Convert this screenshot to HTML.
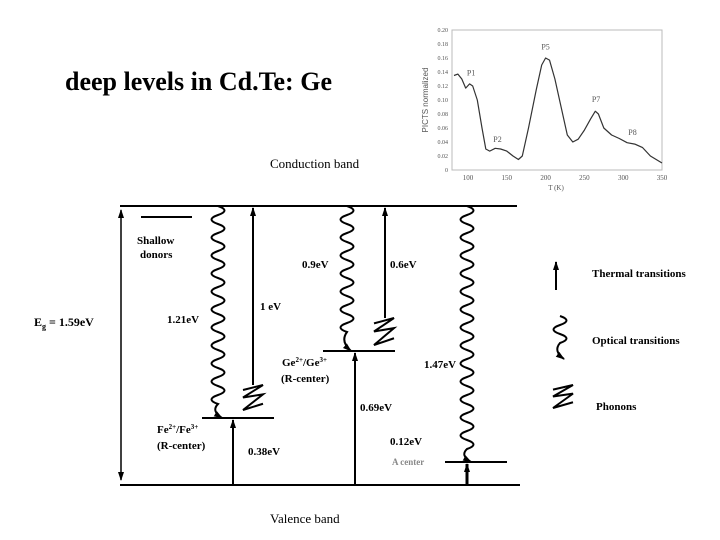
<!DOCTYPE html>
<html><head><meta charset="utf-8"><style>
body{margin:0;background:#fff;}
svg{display:block;font-family:"Liberation Serif",serif;}
.l{font-size:11px;font-weight:bold;}
</style></head><body>
<svg id="s" width="720" height="540" viewBox="0 0 720 540">
<defs>
<marker id="ah" markerWidth="9" markerHeight="8" refX="8" refY="4" orient="auto-start-reverse" markerUnits="userSpaceOnUse" viewBox="0 0 9 8"><path d="M0,1 L9,4 L0,7 Z" fill="#000"/></marker>
</defs>
<text x="65" y="90" font-size="26" font-weight="bold">deep levels in Cd.Te: Ge</text>
<text x="270" y="168" font-size="13">Conduction band</text>
<text x="270" y="523" font-size="13">Valence band</text>
<g id="diag" stroke="#000" fill="none" stroke-width="2"></g>
<g class="l">
<text x="137" y="244">Shallow</text><text x="140" y="258">donors</text>
<text x="302" y="268">0.9eV</text><text x="390" y="268">0.6eV</text>
<text x="167" y="323">1.21eV</text><text x="260" y="310">1 eV</text>
<text x="282" y="366">Ge<tspan font-size="7" dy="-4">2+</tspan><tspan dy="4">/Ge</tspan><tspan font-size="7" dy="-4">3+</tspan></text>
<text x="281" y="382">(R-center)</text>
<text x="424" y="368">1.47eV</text><text x="360" y="411">0.69eV</text>
<text x="157" y="433">Fe<tspan font-size="7" dy="-4">2+</tspan><tspan dy="4">/Fe</tspan><tspan font-size="7" dy="-4">3+</tspan></text>
<text x="157" y="449">(R-center)</text>
<text x="390" y="445">0.12eV</text><text x="248" y="455">0.38eV</text>
<text x="392" y="465" fill="#888" font-size="9">A center</text>
<text x="34" y="326" font-size="12">E<tspan font-size="8" dy="3">g</tspan><tspan dy="-3"> = 1.59eV</tspan></text>
<text x="592" y="277">Thermal transitions</text>
<text x="592" y="344">Optical transitions</text>
<text x="596" y="410">Phonons</text>
</g>
<g id="chart"></g>
</svg>
<script>
const temps=[82,87,92,97,102,106,112,118,123,128,135,142,150,158,165,170,178,188,195,200,205,212,220,228,235,242,250,258,264,268,275,285,295,305,315,325,335,350];
const picts=[0.135,0.137,0.13,0.117,0.123,0.12,0.1,0.06,0.03,0.027,0.031,0.03,0.027,0.02,0.015,0.02,0.06,0.115,0.15,0.16,0.157,0.13,0.09,0.05,0.04,0.044,0.057,0.073,0.084,0.08,0.06,0.05,0.045,0.039,0.037,0.032,0.02,0.01];
const xTicks=[100,150,200,250,300,350];
const yTicks=[0,0.02,0.04,0.06,0.08,0.10,0.12,0.14,0.16,0.18,0.20];
const peaks=[["P1",104,0.135],["P2",138,0.04],["P5",200,0.172],["P7",265,0.097],["P8",312,0.05]];
const NS="http://www.w3.org/2000/svg";
function mk(p,t,a){const e=document.createElementNS(NS,t);for(const k in a)e.setAttribute(k,a[k]);p.appendChild(e);return e;}
const ch=document.getElementById('chart');
const X=t=>468+(t-100)*(194/250), Y=v=>170-v*700;
const fr=mk(ch,'rect',{x:452,y:Y(0.2),width:210,height:140,fill:'none',stroke:'#bbb','stroke-width':1});

xTicks.forEach(t=>{const e=mk(ch,'text',{x:X(t),y:180,'font-size':7,'text-anchor':'middle',fill:'#555'});e.textContent=t;
});
yTicks.forEach(v=>{const e=mk(ch,'text',{x:448,y:Y(v)+2,'font-size':6,'text-anchor':'end',fill:'#555'});e.textContent=v===0?'0':v.toFixed(2);
});
let xl=mk(ch,'text',{x:556,y:190,'font-size':7,'text-anchor':'middle',fill:'#555'});xl.textContent='T (K)';

let yl=mk(ch,'text',{x:428,y:100,'font-size':8,'text-anchor':'middle',fill:'#555',transform:'rotate(-90 428 100)','font-family':'Liberation Sans'});yl.textContent='PICTS normalized';

let d='';temps.forEach((t,i)=>{d+=(i?'L':'M')+X(t).toFixed(1)+','+Y(picts[i]).toFixed(1);});
const ln=mk(ch,'path',{d:d,fill:'none',stroke:'#333','stroke-width':1.2,'stroke-linejoin':'round'});

peaks.forEach(p=>{const e=mk(ch,'text',{x:X(p[1]),y:Y(p[2]),'font-size':8,'text-anchor':'middle',fill:'#555'});e.textContent=p[0];
});

const g=document.getElementById('diag');
function line(x1,y1,x2,y2,name,arrow,w){const e=mk(g,'line',{x1,y1,x2,y2});if(w)e.setAttribute('stroke-width',w);
if(arrow==='end'||arrow==='both')e.setAttribute('marker-end','url(#ah)');if(arrow==='both')e.setAttribute('marker-start','url(#ah)');
}
function wavy(x,y1,y2,name,arrow){let d='M'+x+','+y1;const per=18;let y=y1,s=1;
while(y+per/2<y2-12){d+=' Q'+(x+s*13)+','+(y+per/4)+' '+x+','+(y+per/2);y+=per/2;s=-s;}
d+=' Q'+(x-7)+','+(y+(y2-y)/2)+' '+(x+4)+','+y2;
const e=mk(g,'path',{d});if(arrow)e.setAttribute('marker-end','url(#ah)');
}
function phonon(x,y1,y2,name){const w=10,h=(y2-y1)/4;
const e=mk(g,'path',{d:`M${x-w},${y1+h*0.8} L${x+w},${y1} L${x-w},${y1+h*2} L${x+w},${y1+h*1.5} L${x-w},${y2} L${x+w},${y1+h*3}`});
}
line(120,206,517,206,'conduction-band-edge');
line(120,485,520,485,'valence-band-edge');
line(121,480,121,210,'band-gap-arrow','both',1.5);
line(141,217,192,217,'shallow-donor-level');
line(202,418,274,418,'fe-level');
line(323,351,395,351,'ge-level');
line(445,462,507,462,'a-center-level');
wavy(218,206,418,'optical-1-21ev',true);
line(253,385,253,208,'thermal-1ev','end');
phonon(253,385,410,'phonon-fe');
line(233,485,233,420,'thermal-0-38ev','end');
wavy(347,206,351,'optical-0-9ev',true);
line(385,318,385,208,'thermal-0-6ev','end');
phonon(384,318,345,'phonon-ge');
line(355,485,355,353,'thermal-0-69ev','end');
wavy(467,206,462,'optical-1-47ev',true);
line(467,485,467,464,'thermal-0-12ev','end',3);
line(556,290,556,262,'legend-thermal-arrow','end');
wavy(560,316,359,'legend-optical-wave',true);
phonon(563,385,408,'legend-phonon');
</script>
</body></html>
